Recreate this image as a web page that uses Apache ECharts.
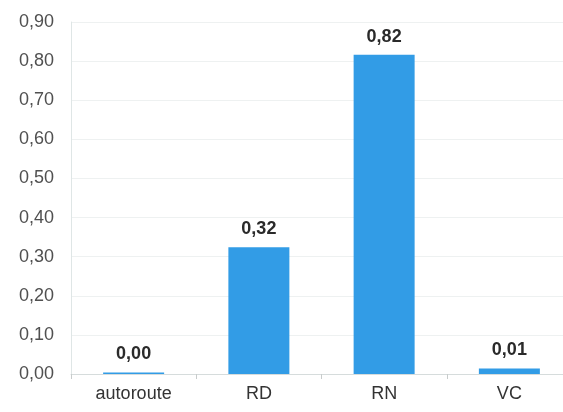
<!DOCTYPE html>
<html><head><meta charset="utf-8">
<script src="https://cdn.jsdelivr.net/npm/echarts@6/dist/echarts.min.js"></script>
<style>html,body{margin:0;padding:0;background:#fff;overflow:hidden}#c{width:572px;height:412px}</style>
</head><body><div id="c"></div>
<script>
const categories = ['autoroute', 'RD', 'RN', 'VC'];
const values = [0.004, 0.324, 0.816, 0.014];
const yTicks = { min: 0, max: 0.9, interval: 0.1 };

const fmt = v => v.toFixed(2).replace('.', ',');
const chart = echarts.init(document.getElementById('c'));
chart.setOption({
  animation: false,
  grid: { left: 71, right: 0, top: 22, bottom: 38 },
  xAxis: {
    type: 'category', data: categories,
    axisLine: { lineStyle: { color: '#d6dcdc' } },
    axisTick: { show: true, length: 5, lineStyle: { color: '#c8cccc' } },
    axisLabel: { color: '#333', fontSize: 18, fontFamily: 'Liberation Sans', margin: 11 }
  },
  yAxis: {
    type: 'value', min: yTicks.min, max: yTicks.max, interval: yTicks.interval,
    axisLine: { show: true, lineStyle: { color: '#dfe6e6' } },
    axisTick: { show: false },
    splitLine: { lineStyle: { color: '#eef1f1' } },
    axisLabel: { color: '#505050', fontSize: 18, fontFamily: 'Liberation Sans', margin: 17, formatter: fmt }
  },
  series: [{
    type: 'bar', data: values, barWidth: 61,
    itemStyle: { color: '#329ce6' },
    label: { show: true, position: 'top', distance: 9, color: '#2a2a2a', fontWeight: 'bold',
             fontSize: 18, fontFamily: 'Liberation Sans', formatter: p => fmt(p.value) }
  }]
});
</script></body></html>
